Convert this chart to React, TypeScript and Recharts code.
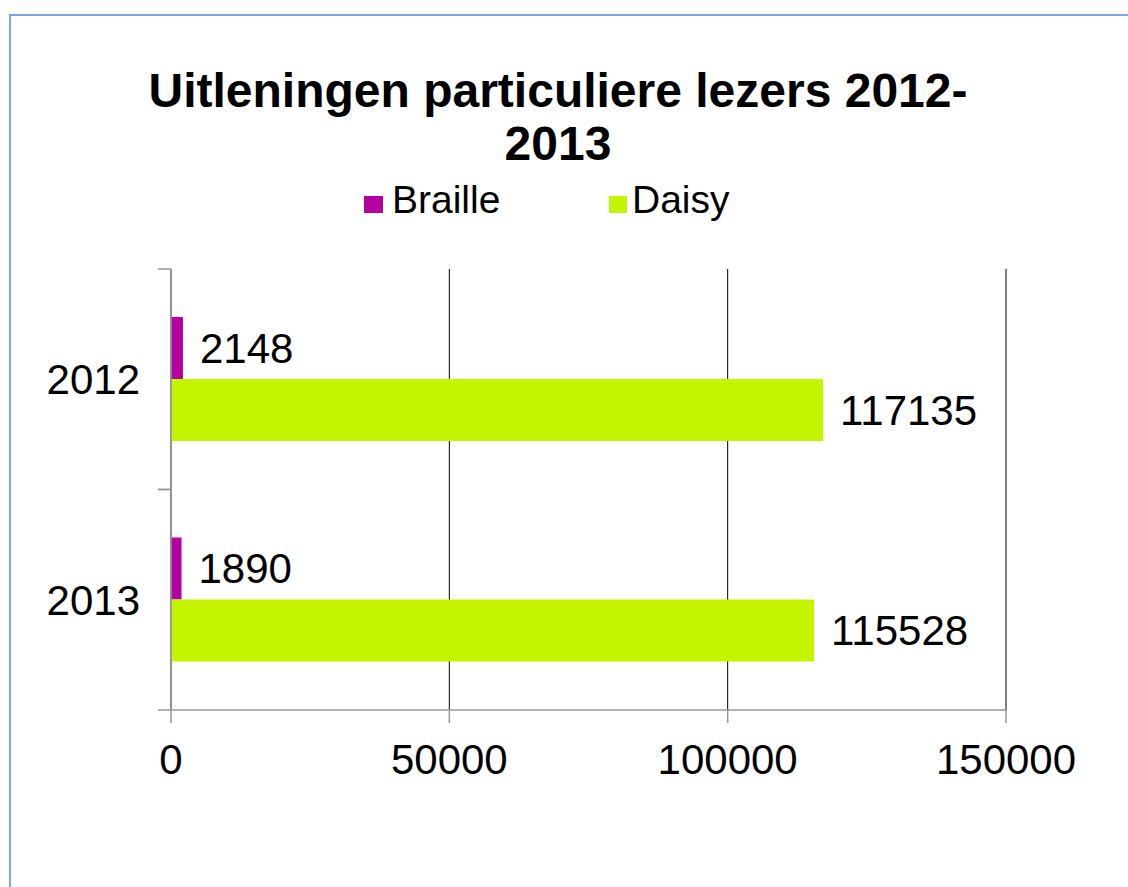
import React from 'react';
import { BarChart, Bar, XAxis, YAxis, CartesianGrid, LabelList } from 'recharts';

const years = ['2012', '2013'];
const braille = [2148, 1890];
const daisy = [117135, 115528];
const xTicks = [0, 50000, 100000, 150000];
const seriesNames = ['Braille', 'Daisy'];
const titleLines = ['Uitleningen particuliere lezers 2012-', '2013'];

const colors = { braille: '#B4009E', daisy: '#C4F500' };
const FONT = '"Liberation Sans", Arial, sans-serif';
const AXIS = '#999';
const TICK_MARGIN = 31;
const TICK_LEN = 13;

const data = years.map((y, i) => ({ year: y, braille: braille[i], daisy: daisy[i] }));

const CategoryTick = (props: any) => {
  const { x, y, payload } = props;
  const half = payload && payload.offset ? payload.offset : 0;
  const axisX = x + TICK_MARGIN;
  return (
    <g>
      <line x1={axisX - TICK_LEN} x2={axisX} y1={y - half} y2={y - half} stroke={AXIS} strokeWidth={1.5} />
      <line x1={axisX - TICK_LEN} x2={axisX} y1={y + half} y2={y + half} stroke={AXIS} strokeWidth={1.5} />
      <text x={x} y={y} dy="0.355em" textAnchor="end" fontSize={42} fontFamily={FONT} fill="#000">
        {payload.value}
      </text>
    </g>
  );
};

export default function App() {
  return (
    <div style={{ position: 'absolute', left: 0, top: 0, width: 1128, height: 887, background: '#fff', fontFamily: FONT }}>
      <div style={{ position: 'absolute', left: 9, top: 14, right: 0, bottom: 0, borderTop: '2px solid #7AA7E2', borderLeft: '2px solid #7AA7E2' }} />
      <div style={{ position: 'absolute', left: 0, top: 0 }}>
        <BarChart
          width={1128}
          height={887}
          data={data}
          layout="vertical"
          margin={{ top: 269, right: 122, bottom: 97, left: 0 }}
          barCategoryGap={48}
          barGap={0}
        >
          <CartesianGrid horizontal={false} vertical={true} stroke="#000" strokeWidth={1} />
          <XAxis
            type="number"
            domain={[0, 150000]}
            ticks={xTicks}
            interval={0}
            height={80}
            axisLine={{ stroke: AXIS, strokeWidth: 1.5 }}
            tickLine={{ stroke: AXIS, strokeWidth: 1.5 }}
            tickSize={13}
            tickMargin={21}
            tick={{ fill: '#000', fontSize: 42, fontFamily: FONT }}
          />
          <YAxis
            type="category"
            dataKey="year"
            width={171}
            axisLine={{ stroke: AXIS, strokeWidth: 1.5 }}
            tickLine={false}
            tickSize={0}
            tickMargin={TICK_MARGIN}
            interval={0}
            tick={CategoryTick}
          />
          <Bar dataKey="braille" name={seriesNames[0]} fill={colors.braille} isAnimationActive={false}>
            <LabelList dataKey="braille" position="right" offset={17} fill="#000" fontSize={42} fontFamily={FONT} />
          </Bar>
          <Bar dataKey="daisy" name={seriesNames[1]} fill={colors.daisy} isAnimationActive={false}>
            <LabelList dataKey="daisy" position="right" offset={17} fill="#000" fontSize={42} fontFamily={FONT} />
          </Bar>
        </BarChart>
      </div>
      <svg width={1128} height={260} style={{ position: 'absolute', left: 0, top: 0, pointerEvents: 'none' }}>
        <text x={558} y={107} textAnchor="middle" fontSize={48} fontWeight="bold" fontFamily={FONT} fill="#000">{titleLines[0]}</text>
        <text x={558} y={160} textAnchor="middle" fontSize={48} fontWeight="bold" fontFamily={FONT} fill="#000">{titleLines[1]}</text>
        <rect x={364} y={196} width={19} height={17} fill={colors.braille} />
        <text x={392} y={213} fontSize={39} fontFamily={FONT} fill="#000">{seriesNames[0]}</text>
        <rect x={609} y={196} width={18} height={17} fill={colors.daisy} />
        <text x={632} y={213} fontSize={39} fontFamily={FONT} fill="#000">{seriesNames[1]}</text>
      </svg>
    </div>
  );
}
